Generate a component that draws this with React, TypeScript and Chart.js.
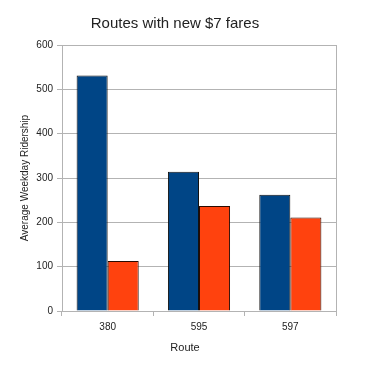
import React, { useEffect, useRef } from "react";
import { Chart, registerables } from "chart.js";

Chart.register(...registerables);

const categories = ["380", "595", "597"];
const seriesA = [531, 314, 262];
const seriesB = [113, 237, 211];
const yMin = 0;
const yMax = 600;
const yStep = 100;

const titleText = "Routes with new $7 fares";
const yTitle = "Average Weekday Ridership";
const xTitle = "Route";

const GRID = "#b3b3b3";
const FONT = "'Liberation Sans', Arial, sans-serif";

export default function App() {
  const ref = useRef<HTMLCanvasElement | null>(null);

  useEffect(() => {
    if (!ref.current) return;
    const xTitlePlugin = {
      id: "xTitlePlugin",
      afterDraw(chart: any) {
        const { ctx, chartArea } = chart;
        ctx.save();
        ctx.font = `11px ${FONT}`;
        ctx.fillStyle = "#222";
        ctx.textAlign = "center";
        ctx.textBaseline = "middle";
        ctx.fillText(xTitle, 185, chartArea.bottom + 37);
        ctx.restore();
      },
    };
    const chart = new Chart(ref.current, {
      type: "bar",
      data: {
        labels: categories,
        datasets: [
          {
            label: "A",
            data: seriesA,
            backgroundColor: "#004586",
            borderColor: "#111",
            borderWidth: 1,
            barPercentage: 1,
            categoryPercentage: 0.68,
          },
          {
            label: "B",
            data: seriesB,
            backgroundColor: "#ff420e",
            borderColor: "#2a0a00",
            borderWidth: 1,
            barPercentage: 1,
            categoryPercentage: 0.68,
          },
        ],
      },
      options: {
        animation: false,
        responsive: false,
        maintainAspectRatio: false,
        layout: { padding: { left: 14, right: 32, top: 0, bottom: 0 } },
        plugins: {
          legend: { display: false },
          tooltip: { enabled: false },
          title: {
            display: true,
            text: titleText,
            color: "#222",
            font: { family: FONT, size: 15, weight: "normal" },
            padding: { top: 15, bottom: 12 },
          },
        },
        scales: {
          x: {
            afterFit: (s: any) => {
              s.height = 61;
            },
            grid: {
              offset: true,
              drawOnChartArea: true,
              color: (c: any) => (c.type === "scale" ? GRID : "rgba(0,0,0,0)"),
              tickColor: GRID,
              tickLength: 5,
            },
            border: { color: GRID },
            ticks: {
              color: "#222",
              font: { family: FONT, size: 10 },
              padding: 5,
            },
          },
          y: {
            min: yMin,
            max: yMax,
            afterFit: (s: any) => {
              s.width = 48;
            },
            ticks: {
              stepSize: yStep,
              color: "#222",
              font: { family: FONT, size: 10 },
              padding: 4,
            },
            grid: { color: GRID, tickLength: 5 },
            border: { color: GRID },
            title: {
              display: true,
              text: yTitle,
              color: "#222",
              font: { family: FONT, size: 10 },
              padding: { top: 5, bottom: 0 },
            },
          },
        },
      },
      plugins: [xTitlePlugin],
    });
    return () => chart.destroy();
  }, []);

  return (
    <div style={{ position: "fixed", left: 0, top: 0, width: 368, height: 372, background: "#fff" }}>
      <canvas ref={ref} width={368} height={372} style={{ width: 368, height: 372 }} />
    </div>
  );
}
